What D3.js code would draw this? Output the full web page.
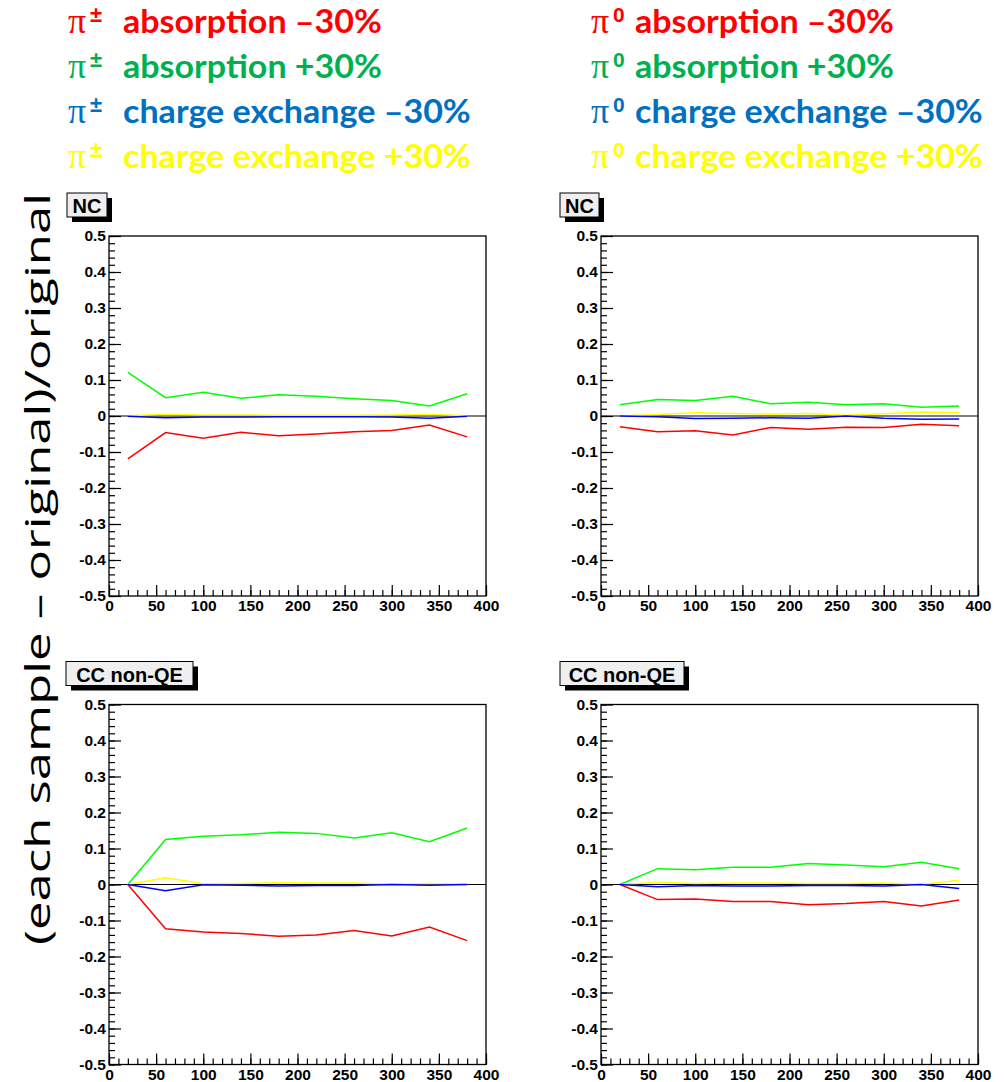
<!DOCTYPE html>
<html>
<head>
<meta charset="utf-8">
<script src="https://cdn.jsdelivr.net/npm/d3@7"></script>
<style>
  body { margin: 0; background: #fff; }
  svg { display: block; }
</style>
</head>
<body>
<div id="chart"></div>
<script>
// x values (bin centres) shared by every curve
const energies = [20, 60, 100, 140, 180, 220, 260, 300, 340, 380];
const xTicks = [0, 50, 100, 150, 200, 250, 300, 350, 400];
const yTicks = [-0.5, -0.4, -0.3, -0.2, -0.1, 0, 0.1, 0.2, 0.3, 0.4, 0.5];

// NC, pi+- reweighting
const ncChAbsMinus = [-0.119, -0.046, -0.062, -0.045, -0.055, -0.050, -0.044, -0.040, -0.025, -0.058];
const ncChAbsPlus  = [0.121, 0.051, 0.066, 0.049, 0.059, 0.055, 0.048, 0.043, 0.028, 0.062];
const ncChCexMinus = [-0.001, -0.005, -0.003, -0.003, -0.002, -0.002, -0.002, -0.003, -0.006, -0.001];
const ncChCexPlus  = [0.001, 0.005, 0.003, 0.003, 0.002, 0.002, 0.002, 0.003, 0.005, 0.001];

// NC, pi0 reweighting
const ncPi0AbsMinus = [-0.030, -0.044, -0.041, -0.053, -0.032, -0.037, -0.031, -0.032, -0.023, -0.027];
const ncPi0AbsPlus  = [0.031, 0.046, 0.043, 0.055, 0.034, 0.038, 0.031, 0.034, 0.024, 0.028];
const ncPi0CexMinus = [0.000, -0.002, -0.007, -0.006, -0.005, -0.006, 0.000, -0.006, -0.009, -0.008];
const ncPi0CexPlus  = [0.000, 0.004, 0.009, 0.007, 0.005, 0.007, 0.002, 0.006, 0.011, 0.010];

// CC non-QE, pi+- reweighting
const ccChAbsMinus = [0.000, -0.123, -0.132, -0.136, -0.144, -0.140, -0.128, -0.143, -0.118, -0.156];
const ccChAbsPlus  = [0.000, 0.125, 0.134, 0.138, 0.145, 0.142, 0.129, 0.144, 0.119, 0.157];
const ccChCexMinus = [0.000, -0.017, -0.001, -0.002, -0.004, -0.003, -0.003, 0.000, -0.002, 0.000];
const ccChCexPlus  = [0.000, 0.019, 0.002, 0.003, 0.005, 0.004, 0.004, 0.001, 0.003, 0.001];

// CC non-QE, pi0 reweighting
const ccPi0AbsMinus = [0.000, -0.042, -0.040, -0.047, -0.047, -0.056, -0.053, -0.047, -0.060, -0.043];
const ccPi0AbsPlus  = [0.000, 0.044, 0.041, 0.048, 0.048, 0.058, 0.054, 0.049, 0.062, 0.044];
const ccPi0CexMinus = [0.000, -0.006, -0.003, -0.004, -0.004, -0.003, -0.003, -0.004, 0.000, -0.011];
const ccPi0CexPlus  = [0.000, 0.006, 0.003, 0.004, 0.004, 0.003, 0.003, 0.004, 0.000, 0.012];

// legend
const legendLabels = ["absorption \u201330%", "absorption +30%", "charge exchange \u201330%", "charge exchange +30%"];
const legendColors = ["#ff0000", "#00b050", "#0070c0", "#ffff00"];
const lineColors   = ["#ff0000", "#00ff00", "#0000ff", "#ffff00"];

const width = 1004, height = 1082;
const plotW = 377, plotH = 360;

const svg = d3.select("#chart")
  .append("svg")
  .attr("width", width)
  .attr("height", height);

// Legends (two columns)
const legendCols = [
  { x: 68, supX: 90, textX: 123, sup: "\u00b1", supSize: 22 },
  { x: 591, supX: 613, textX: 635, sup: "0", supSize: 21 }
];
const legendFont = 32;
let legendStretch = null;

legendCols.forEach(col => {
  legendLabels.forEach((label, i) => {
    const baseY = 33 + i * 45;
    svg.append("text")
      .attr("x", col.x)
      .attr("y", baseY)
      .attr("fill", legendColors[i])
      .style("font-family", "'Liberation Serif', serif")
      .style("font-size", "36px")
      .text("\u03c0");
    svg.append("text")
      .attr("x", col.supX)
      .attr("y", baseY - 11)
      .attr("fill", legendColors[i])
      .style("font-family", "'Liberation Sans', sans-serif")
      .style("font-weight", "bold")
      .style("font-size", col.supSize + "px")
      .text(col.sup);

    const main = svg.append("text")
      .attr("x", col.textX)
      .attr("y", baseY)
      .attr("fill", legendColors[i])
      .style("font-family", "Lato, sans-serif")
      .style("font-weight", "bold")
      .style("font-size", legendFont + "px")
      .text(label);
    // the source slide is stretched horizontally a little
    const natural = main.node().getComputedTextLength();
    if (legendStretch === null) legendStretch = 259 / natural;
    main.attr("textLength", natural * legendStretch)
      .attr("lengthAdjust", "spacingAndGlyphs");
  });
});

// y axis title
svg.append("text")
  .attr("transform", "translate(50,569) rotate(-90)")
  .attr("text-anchor", "middle")
  .attr("textLength", 752)
  .attr("lengthAdjust", "spacingAndGlyphs")
  .style("font-family", "'Open Sans', sans-serif")
  .style("font-size", "34px")
  .attr("fill", "#000")
  .text("(each sample \u2013 original)/original");

const panels = [
  { x: 109, y: 236, label: "NC", boxX: 67, boxW: 40, series: [ncChAbsMinus, ncChAbsPlus, ncChCexPlus, ncChCexMinus] },
  { x: 601, y: 236, label: "NC", boxX: 560, boxW: 39, series: [ncPi0AbsMinus, ncPi0AbsPlus, ncPi0CexPlus, ncPi0CexMinus] },
  { x: 109, y: 704.5, label: "CC non-QE", boxX: 66, boxW: 127, series: [ccChAbsMinus, ccChAbsPlus, ccChCexPlus, ccChCexMinus] },
  { x: 601, y: 704.5, label: "CC non-QE", boxX: 560, boxW: 124, series: [ccPi0AbsMinus, ccPi0AbsPlus, ccPi0CexPlus, ccPi0CexMinus] }
];
// draw order: red, green, yellow, blue
const seriesColors = [lineColors[0], lineColors[1], lineColors[3], lineColors[2]];

const xScale = d3.scaleLinear().domain([0, 400]).range([0, plotW]);
const yScale = d3.scaleLinear().domain([-0.5, 0.5]).range([plotH, 0]);

panels.forEach(p => {
  // label box with drop shadow
  const boxY = p.y - 43;
  svg.append("rect")
    .attr("x", p.boxX + 5).attr("y", boxY + 5)
    .attr("width", p.boxW).attr("height", 24)
    .attr("fill", "#000");
  svg.append("rect")
    .attr("x", p.boxX).attr("y", boxY)
    .attr("width", p.boxW).attr("height", 24)
    .attr("fill", "#efefef")
    .attr("stroke", "#000")
    .attr("stroke-width", 1);
  svg.append("text")
    .attr("x", p.boxX + p.boxW / 2)
    .attr("y", boxY + 20)
    .attr("text-anchor", "middle")
    .style("font-family", "'Liberation Sans', Arial, sans-serif")
    .style("font-weight", "bold")
    .style("font-size", "20px")
    .text(p.label);

  const g = svg.append("g").attr("transform", `translate(${p.x},${p.y})`);

  // minor ticks
  g.append("g")
    .call(d3.axisLeft(yScale).tickValues(d3.range(-0.5, 0.5001, 0.02)).tickSizeInner(-6).tickSizeOuter(0).tickFormat(""))
    .call(a => a.select(".domain").remove());
  g.append("g")
    .attr("transform", `translate(0,${plotH})`)
    .call(d3.axisBottom(xScale).tickValues(d3.range(0, 400.1, 10)).tickSizeInner(-6).tickSizeOuter(0).tickFormat(""))
    .call(a => a.select(".domain").remove());

  // major ticks + labels
  const yAxis = g.append("g")
    .call(d3.axisLeft(yScale).tickValues(yTicks).tickSizeInner(-12).tickSizeOuter(0).tickPadding(3).tickFormat(d => String(d)));
  yAxis.select(".domain").remove();
  const xAxis = g.append("g")
    .attr("transform", `translate(0,${plotH})`)
    .call(d3.axisBottom(xScale).tickValues(xTicks).tickSizeInner(-11).tickSizeOuter(0).tickPadding(4).tickFormat(d => String(d)));
  xAxis.select(".domain").remove();

  g.selectAll(".tick line").attr("stroke", "#000").attr("stroke-width", 1.2);
  g.selectAll(".tick text")
    .attr("fill", "#000")
    .style("font-family", "'Liberation Sans', Arial, sans-serif")
    .style("font-weight", "bold")
    .style("font-size", "15.5px");

  // frame
  g.append("rect")
    .attr("width", plotW).attr("height", plotH)
    .attr("fill", "none")
    .attr("stroke", "#000")
    .attr("stroke-width", 1.3);

  // zero line
  g.append("line")
    .attr("x1", 0).attr("x2", plotW)
    .attr("y1", yScale(0)).attr("y2", yScale(0))
    .attr("stroke", "#000")
    .attr("stroke-width", 1.2);

  const line = d3.line()
    .x((d, i) => xScale(energies[i]))
    .y(d => yScale(d));

  p.series.forEach((s, k) => {
    g.append("path")
      .datum(s)
      .attr("d", line)
      .attr("fill", "none")
      .attr("stroke", seriesColors[k])
      .attr("stroke-width", 1.5);
  });
});
</script>
</body>
</html>
